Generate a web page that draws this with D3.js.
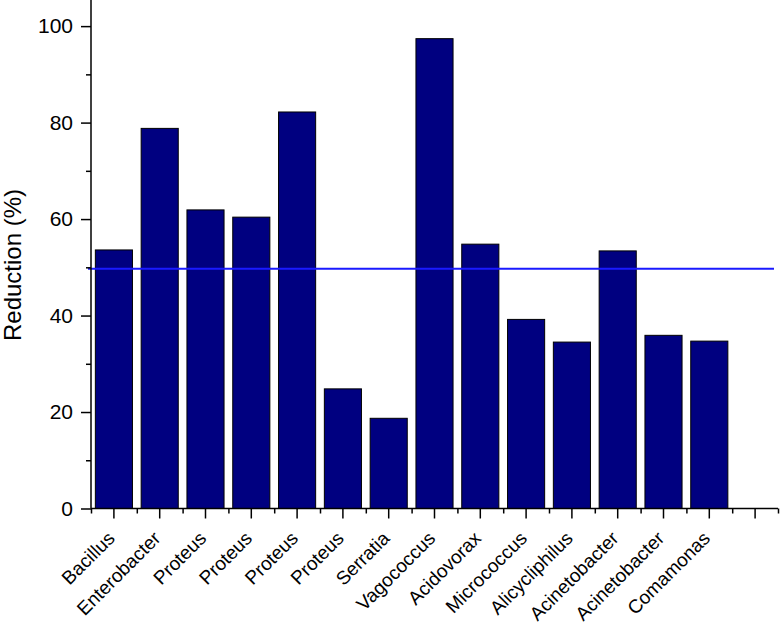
<!DOCTYPE html>
<html>
<head>
<meta charset="utf-8">
<script src="https://cdn.jsdelivr.net/npm/d3@7"></script>
<style>
  body { margin: 0; background: #fff; }
  svg { display: block; font-family: "Liberation Sans", Arial, sans-serif; }
  .domain { stroke: #000; stroke-width: 1.5; }
  .tick line { stroke: #000; stroke-width: 1.5; }
</style>
</head>
<body>
<div id="chart"></div>
<script>
// data
var genera = ["Bacillus", "Enterobacter", "Proteus", "Proteus", "Proteus", "Proteus", "Serratia",
  "Vagococcus", "Acidovorax", "Micrococcus", "Alicycliphilus", "Acinetobacter", "Acinetobacter", "Comamonas", ""];
var reduction = [53.6, 78.8, 61.9, 60.4, 82.2, 24.8, 18.7, 97.4, 54.8, 39.2, 34.5, 53.4, 35.9, 34.7];
var threshold = 49.7;
var yTicks = [0, 20, 40, 60, 80, 100];

var width = 780, height = 624;
var margin = { top: 2, right: 2, bottom: 115.5, left: 91 };

var svg = d3.select("#chart")
  .append("svg")
  .attr("width", width)
  .attr("height", height);

var xScale = d3.scaleBand()
  .domain(d3.range(genera.length))
  .range([margin.left, width - margin.right])
  .paddingInner(0.19)
  .paddingOuter(0.095);

// boundaries between categories, for the short ticks
var xEdges = d3.scaleLinear()
  .domain([0, genera.length])
  .range([margin.left, width - margin.right]);

var yScale = d3.scaleLinear()
  .domain([0, 105])
  .range([height - margin.bottom, margin.top]);

// bars
svg.append("g")
  .attr("class", "bars")
  .selectAll("rect")
  .data(reduction)
  .enter()
  .append("rect")
  .attr("x", (d, i) => xScale(i))
  .attr("y", d => yScale(d))
  .attr("width", xScale.bandwidth())
  .attr("height", d => yScale(0) - yScale(d))
  .attr("fill", "#000080")
  .attr("stroke", "#000")
  .attr("stroke-width", 1);

// reference line
svg.append("line")
  .attr("x1", margin.left - 3)
  .attr("x2", width - 6)
  .attr("y1", yScale(threshold))
  .attr("y2", yScale(threshold))
  .attr("stroke", "#1a1aff")
  .attr("stroke-width", 2);

// minor y ticks
svg.append("g")
  .attr("transform", `translate(${margin.left},0)`)
  .call(d3.axisLeft(yScale).tickValues(d3.range(10, 105, 20)).tickSize(5).tickFormat(""))
  .call(g => g.select(".domain").remove());

// y axis
var yRender = svg.append("g")
  .attr("transform", `translate(${margin.left},0)`)
  .call(d3.axisLeft(yScale).tickValues(yTicks).tickSize(10).tickSizeOuter(0).tickPadding(8));

yRender.select(".domain").attr("d", `M0,0V${yScale(0)}`);
yRender.selectAll(".tick text")
  .style("font-size", "21px")
  .style("fill", "#000");

// short x ticks at category edges
svg.append("g")
  .attr("transform", `translate(0,${yScale(0)})`)
  .call(d3.axisBottom(xEdges).tickValues(d3.range(genera.length + 1)).tickSize(5).tickFormat(""))
  .call(g => g.select(".domain").remove());

// x axis
var xRender = svg.append("g")
  .attr("transform", `translate(0,${yScale(0)})`)
  .call(d3.axisBottom(xScale).tickSize(10).tickSizeOuter(0).tickFormat(i => genera[i]));

xRender.select(".domain").attr("d", `M${margin.left},0H${width - margin.right}`);
xRender.selectAll(".tick text")
  .style("font-size", "19px")
  .style("fill", "#000")
  .attr("text-anchor", "end")
  .attr("y", 0)
  .attr("dy", 0)
  .attr("transform", "translate(2,31) rotate(-45)");

svg.append("text")
  .attr("text-anchor", "middle")
  .attr("transform", `translate(21,265) rotate(-90)`)
  .style("font-size", "24px")
  .text("Reduction (%)");
</script>
</body>
</html>
